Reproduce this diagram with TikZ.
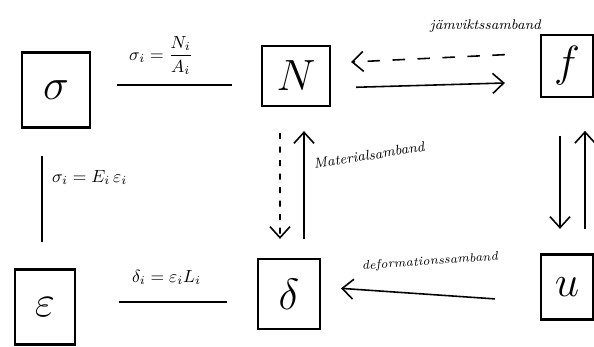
\documentclass[tikz,border=0pt]{standalone}
\usepackage{amsmath}
\usepackage{tikz}
\usetikzlibrary{arrows.meta,positioning,calc}

\begin{document}
\begin{tikzpicture}[
    qbox/.style={draw,line width=1.3pt,minimum width=1.3cm,minimum height=1.3cm,font=\Huge,inner sep=0pt},
    rel/.style={line width=0.9pt},
    arrow/.style={-{Straight Barb[length=2.2mm,width=4mm]},line width=0.9pt},
    darrow/.style={arrow,dash pattern=on 2.5mm off 2.5mm},
    dotarrow/.style={arrow,dash pattern=on 1.2mm off 1.5mm},
    lbl/.style={font=\footnotesize\itshape,inner sep=1pt}]
  \useasboundingbox (0,0) rectangle (11.88,6.94);
  % variabler
  \node[qbox,minimum width=1.36cm,minimum height=1.5cm] (sig) at (1.12,5.14) {$\sigma$};
  \node[qbox,minimum width=1.36cm,minimum height=1.2cm] (N) at (5.92,5.42) {$N$};
  \node[qbox,minimum width=1.04cm,minimum height=1.25cm] (f) at (11.34,5.62) {$f$};
  \node[qbox,minimum width=1.2cm,minimum height=1.5cm] (eps) at (0.9,0.8) {$\varepsilon$};
  \node[qbox,minimum width=1.24cm,minimum height=1.4cm] (del) at (5.78,1.06) {$\delta$};
  \node[qbox,minimum width=1.04cm,minimum height=1.3cm] (u) at (11.34,1.2) {$u$};
  % samband
  \draw[rel,shorten <=0.52cm,shorten >=0.58cm] ([yshift=0.1cm]sig.east) -- ([yshift=-0.18cm]N.west)
    node[midway,above=2pt,xshift=-0.3cm] {$\sigma_i=\dfrac{N_i}{A_i}$};
  \draw[rel,shorten <=0.55cm,shorten >=0.53cm] ([xshift=-0.28cm]sig.south) -- ([xshift=-0.06cm]eps.north)
    node[pos=0.35,right=2pt] {$\sigma_i=E_i\,\varepsilon_i$};
  \draw[rel,shorten <=0.86cm,shorten >=0.6cm] ([yshift=0.1cm]eps.east) -- ([yshift=-0.16cm]del.west)
    node[midway,above=6pt] {$\delta_i=\varepsilon_i L_i$};
  \draw[darrow,shorten <=0.7cm,shorten >=0.4cm] ([yshift=0.26cm]f.west) -- ([yshift=0.26cm]N.east)
    node[lbl,pos=0.26,above=12pt] {jämviktssamband};
  \draw[arrow,shorten <=0.5cm,shorten >=0.7cm] ([yshift=-0.24cm]N.east) -- ([yshift=-0.32cm]f.west);
  \draw[dotarrow,shorten <=0.52cm,shorten >=0.38cm] ([xshift=-0.32cm]N.south) -- ([xshift=-0.18cm]del.north);
  \draw[arrow,shorten <=0.38cm,shorten >=0.48cm] ([xshift=0.3cm]del.north) -- ([xshift=0.16cm]N.south)
    node[lbl,pos=0.62,right=4pt,rotate=9,anchor=west] {Materialsamband};
  \draw[arrow,shorten <=0.9cm,shorten >=0.4cm] ([yshift=-0.3cm]u.west) -- ([yshift=0.14cm]del.east)
    node[lbl,font=\scriptsize\itshape,midway,above=14pt,rotate=4] {deformationssamband};
  \draw[arrow,shorten <=0.75cm,shorten >=0.49cm] ([xshift=-0.14cm]f.south) -- ([xshift=-0.14cm]u.north);
  \draw[arrow,shorten <=0.49cm,shorten >=0.65cm] ([xshift=0.36cm]u.north) -- ([xshift=0.36cm]f.south);
\end{tikzpicture}
\end{document}
